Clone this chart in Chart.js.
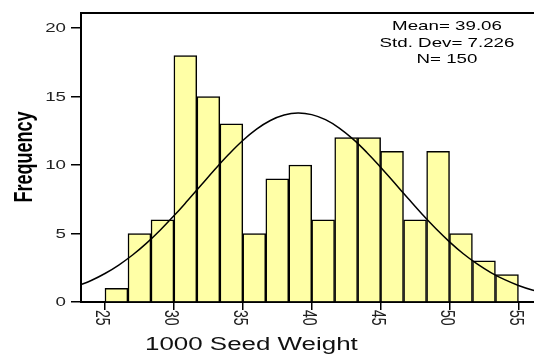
<!DOCTYPE html>
<html>
<head>
<meta charset="utf-8">
<script src="https://cdn.jsdelivr.net/npm/chart.js@4"></script>
<style>
  html, body { margin: 0; padding: 0; background: #fff; overflow: hidden; }
  #wrap { width: 560px; height: 354px; }
</style>
</head>
<body>
<div id="wrap"><canvas id="histChart" width="560" height="354"></canvas></div>
<script>
// bin centres (bins of 1.667 from 25 to 55) and counts
const binCenters = [25.83, 27.50, 29.17, 30.83, 32.50, 34.17, 35.83, 37.50, 39.17,
                    40.83, 42.50, 44.17, 45.83, 47.50, 49.17, 50.83, 52.50, 54.17];
const frequencies = [1, 5, 6, 18, 15, 13, 5, 9, 10, 6, 12, 12, 11, 6, 11, 5, 3, 2];

// normal curve
const curveX = [23, 24, 25, 26, 27, 28, 29, 30, 31, 32, 33, 34, 35, 36, 37, 38, 39, 40,
                41, 42, 43, 44, 45, 46, 47, 48, 49, 50, 51, 52, 53, 54, 55, 56, 57];
const curveY = [1.17, 1.57, 2.08, 2.70, 3.43, 4.28, 5.24, 6.29, 7.41, 8.56, 9.71, 10.80,
                11.79, 12.62, 13.25, 13.65, 13.80, 13.68, 13.31, 12.70, 11.89, 10.92, 9.84,
                8.70, 7.55, 6.42, 5.36, 4.39, 3.52, 2.78, 2.15, 1.63, 1.21, 0.88, 0.63];

const xTicks = [25, 30, 35, 40, 45, 50, 55];
const yTicks = [0, 5, 10, 15, 20];
const statLines = ['Mean= 39.06', 'Std. Dev= 7.226', 'N= 150'];
const xTitle = '1000 Seed Weight';
const yTitle = 'Frequency';

const FONT = '"Liberation Sans", Arial, sans-serif';
const STRETCH = 1.44;   // the original's text is wide

function wideText(ctx, text, x, y, rot) {
    ctx.save();
    ctx.translate(x, y);
    ctx.scale(STRETCH, 1);
    if (rot) ctx.rotate(rot);
    ctx.fillText(text, 0, 0);
    ctx.restore();
}

const extras = {
    id: 'extras',
    afterDraw(chart) {
        const ctx = chart.ctx;
        const area = chart.chartArea;
        const xs = chart.scales.x;
        const ys = chart.scales.y;
        ctx.save();
        // top frame line
        ctx.strokeStyle = '#000';
        ctx.lineWidth = 2;
        ctx.beginPath();
        ctx.moveTo(area.left - 1, area.top);
        ctx.lineTo(chart.width, area.top);
        ctx.stroke();

        // x tick labels, turned clockwise
        ctx.fillStyle = '#222';
        ctx.font = '14px ' + FONT;
        ctx.textAlign = 'left';
        ctx.textBaseline = 'middle';
        xTicks.forEach(v => wideText(ctx, String(v), xs.getPixelForValue(v) - 3, area.bottom + 8, Math.PI / 2));

        // y tick labels
        ctx.font = '13px ' + FONT;
        ctx.textAlign = 'right';
        yTicks.forEach(v => wideText(ctx, String(v), 66, ys.getPixelForValue(v) + 0.5));

        // x title
        ctx.fillStyle = '#111';
        ctx.font = '18px ' + FONT;
        ctx.textAlign = 'left';
        wideText(ctx, xTitle, 145, 345);

        // y title
        ctx.fillStyle = '#000';
        ctx.font = 'bold 18px ' + FONT;
        ctx.textAlign = 'center';
        wideText(ctx, yTitle, 25, 157, -Math.PI / 2);

        // stats box
        ctx.font = '13px ' + FONT;
        ctx.textAlign = 'center';
        statLines.forEach((s, i) => wideText(ctx, s, 447, 26.5 + i * 16.5));
        ctx.restore();
    }
};

const ctx = document.getElementById('histChart').getContext('2d');
const histChart = new Chart(ctx, {
    type: 'bar',
    data: {
        datasets: [{
            type: 'line',
            label: 'Normal',
            data: curveX.map((x, i) => ({ x: x, y: curveY[i] })),
            borderColor: '#000',
            borderWidth: 1.5,
            pointRadius: 0,
            tension: 0.4,
            fill: false,
            order: 0
        }, {
            type: 'bar',
            label: 'Frequency',
            data: binCenters.map((x, i) => ({ x: x, y: frequencies[i] })),
            backgroundColor: '#FFFFA6',
            borderColor: '#000',
            borderWidth: 1.5,
            barPercentage: 1,
            categoryPercentage: 1,
            order: 1
        }]
    },
    options: {
        responsive: false,
        animation: false,
        layout: { padding: { top: 13, right: 14, left: 0, bottom: 0 } },
        plugins: {
            legend: { display: false },
            tooltip: { enabled: false }
        },
        scales: {
            x: {
                type: 'linear',
                min: 23.26,
                max: 57,
                offset: false,
                afterBuildTicks: s => { s.ticks = xTicks.map(v => ({ value: v })); },
                afterFit: s => { s.height = 52; },
                ticks: { display: false },
                grid: {
                    offset: false,
                    drawOnChartArea: false,
                    drawTicks: true,
                    tickLength: 8,
                    color: '#000',
                    lineWidth: 1.5
                },
                border: { display: true, color: '#000', width: 2 }
            },
            y: {
                min: 0,
                max: 21.1,
                afterBuildTicks: s => { s.ticks = yTicks.map(v => ({ value: v })); },
                afterFit: s => { s.width = 81; },
                ticks: { display: false },
                grid: {
                    drawOnChartArea: false,
                    drawTicks: true,
                    tickLength: 10,
                    color: '#000',
                    lineWidth: 1.5
                },
                border: { display: true, color: '#000', width: 2 }
            }
        }
    },
    plugins: [extras]
});
</script>
</body>
</html>
